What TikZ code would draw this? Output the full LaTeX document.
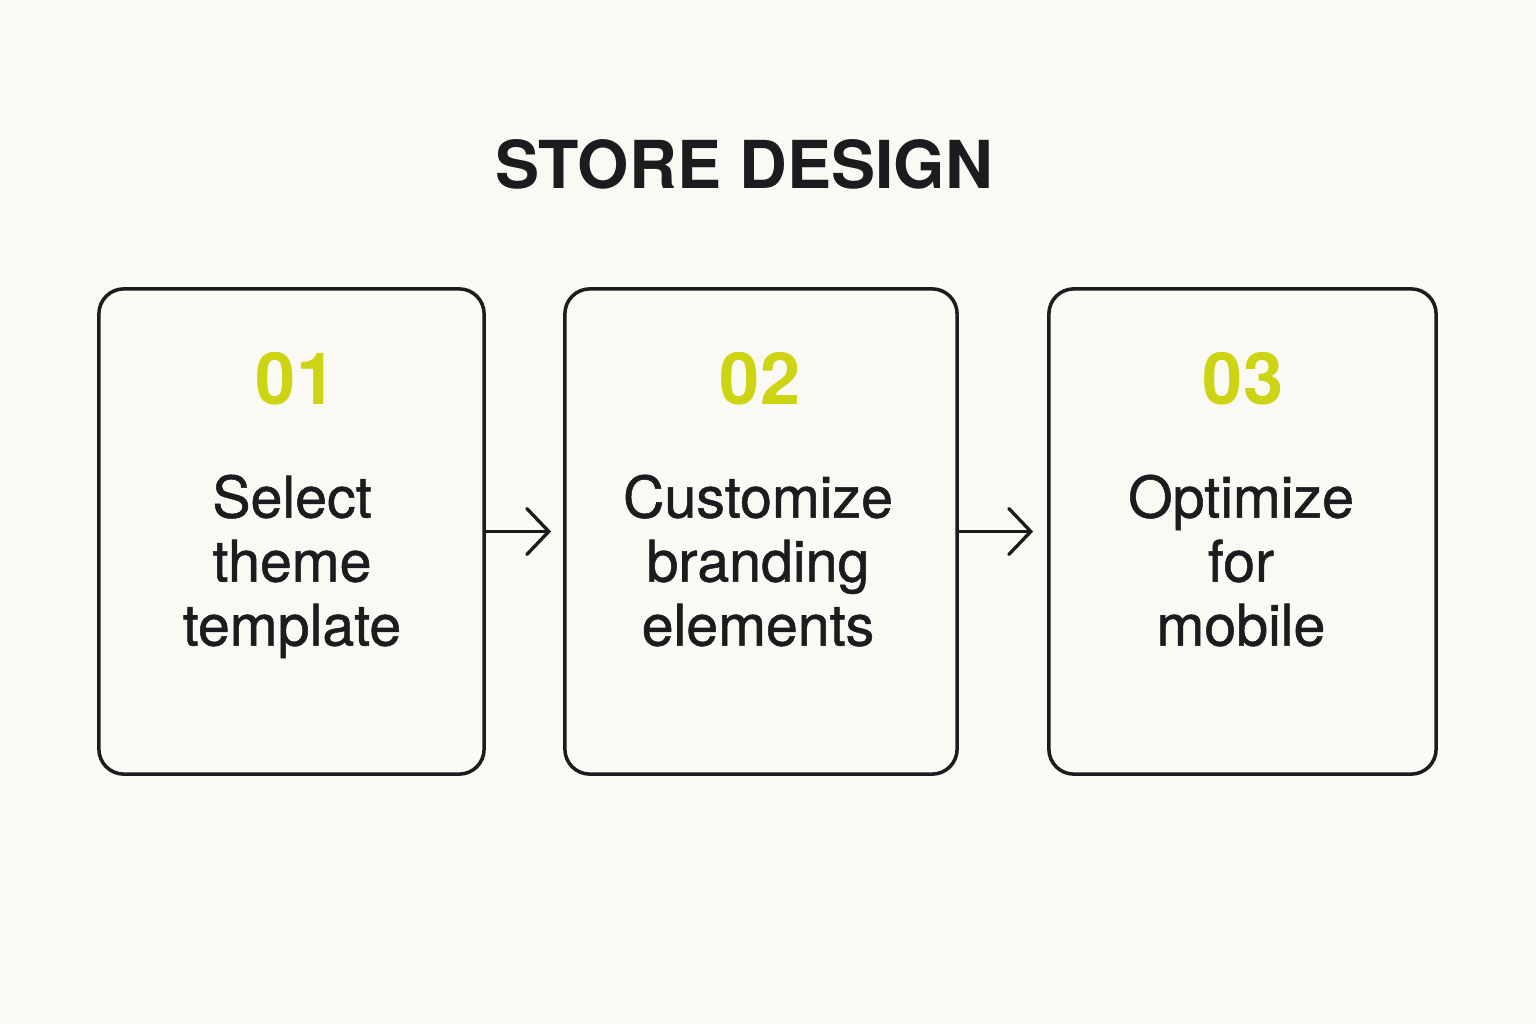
\documentclass[tikz,border=0pt]{standalone}
\usepackage{fontspec}
\setmainfont{TeX Gyre Heros}
\newfontface\medfont{TeX Gyre Heros}[FakeBold=0.9]
\usepackage{tikz}
\usetikzlibrary{arrows.meta, positioning}

\definecolor{paper}{RGB}{251,249,244}
\definecolor{ink}{RGB}{26,28,30}
\definecolor{lime}{RGB}{204,212,20}

\begin{document}
\begin{tikzpicture}[
    x=0.01cm, y=-0.01cm,
    stepbox/.style={rectangle, rounded corners=0.25cm, minimum height=4.85cm, draw=ink, line width=1pt},
    stepnum/.style={anchor=base, inner sep=0, text=lime, font=\fontsize{20.5}{24}\selectfont\bfseries},
    steptext/.style={anchor=north, inner sep=0, align=center, text=ink, font=\fontsize{16.3}{18.2}\selectfont\medfont},
    title/.style={anchor=base, inner sep=0, text=ink, font=\fontsize{18.8}{23}\selectfont\bfseries},
    arrow/.style={draw=ink, line width=0.95pt, -{Straight Barb[length=0.22cm, width=0.46cm, line cap=round]}},
]

    % page
    \fill[paper] (0,0) rectangle (1536,1024);
    \useasboundingbox (0,0) rectangle (1536,1024);

    % heading
    \node (title) [title] at (744,188) {STORE DESIGN};

    % steps
    \node (box1) [stepbox, minimum width=3.85cm] at (291.5,531.5) {};
    \node (box2) [stepbox, minimum width=3.92cm] at (761,531.5) {};
    \node (box3) [stepbox, minimum width=3.87cm] at (1242.5,531.5) {};

    \node (num1) [stepnum] at (296,404) {01};
    \node (num2) [stepnum] at (760,404) {02};
    \node (num3) [stepnum] at (1243,404) {03};

    \node (text1) [steptext] at (292,474) {Select\\theme\\template};
    \node (text2) [steptext] at (758,474) {Customize\\branding\\elements};
    \node (text3) [steptext] at (1241,474) {Optimize\\for\\mobile};

    \draw [arrow, shorten >=0.12cm] (box1.east) -- (box2.west);
    \draw [arrow, shorten >=0.14cm] (box2.east) -- (box3.west);

\end{tikzpicture}
\end{document}
